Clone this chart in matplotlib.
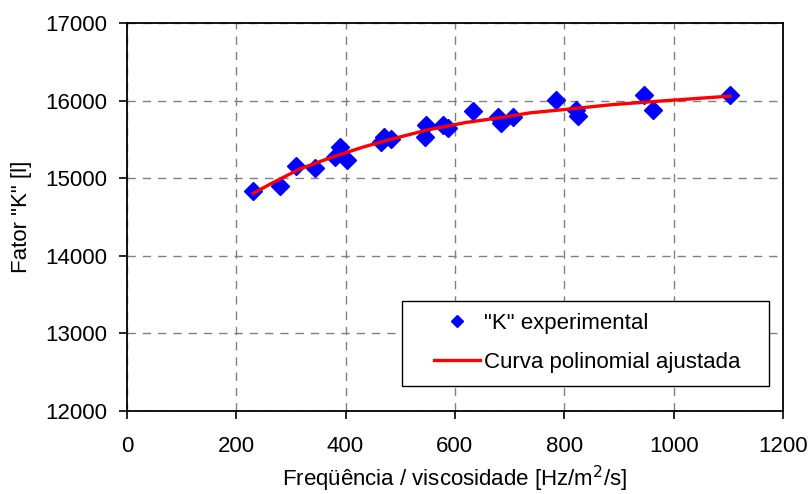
import matplotlib
matplotlib.use("Agg")
import matplotlib.pyplot as plt
from matplotlib.patches import Rectangle
from matplotlib.ticker import MultipleLocator

plt.rcParams['font.family'] = ['Liberation Sans', 'DejaVu Sans']

# Measured points
freq_visc = [231, 281, 310, 344, 380, 390, 402, 465, 470, 484,
             545, 547, 579, 588, 633, 679, 685, 707, 785, 822,
             826, 946, 963, 1104]
k_exp = [14835, 14900, 15157, 15135, 15270, 15398, 15235, 15470, 15530, 15505,
         15527, 15686, 15686, 15643, 15870, 15793, 15712, 15793, 16008, 15879,
         15810, 16072, 15879, 16072]

# Fitted polynomial curve
curve_x = [231, 262, 316, 377, 433, 481, 548, 620, 686, 737, 801, 890, 981, 1103]
curve_y = [14806, 14925, 15120, 15277, 15405, 15500, 15621, 15720, 15785, 15844,
           15888, 15952, 15999, 16060]

FS = 16

fig = plt.figure(figsize=(8.08, 4.94), dpi=100)
ax = fig.add_axes([0.157, 0.168, 0.812, 0.785])

ax.plot(freq_visc, k_exp, linestyle='none', marker='D', markersize=9.3,
        color='#0000FF', markeredgecolor='#0000FF', label='"K" experimental', zorder=3)
ax.plot(curve_x, curve_y, color='#FF0000', linewidth=2.4,
        label='Curva polinomial ajustada', zorder=4)

ax.set_xlim(0, 1200)
ax.set_ylim(12000, 17000)
ax.xaxis.set_major_locator(MultipleLocator(200))
ax.yaxis.set_major_locator(MultipleLocator(1000))

ax.grid(True, color='#808080', linestyle=(0, (6, 5)), linewidth=1.0)
ax.set_axisbelow(True)

for s in ax.spines.values():
    s.set_linewidth(1.3)
    s.set_color('black')

ax.tick_params(direction='out', length=6, width=1.2, labelsize=FS, pad=8)
ax.tick_params(axis='x', pad=12)

ax.set_xlabel('Freqüência / viscosidade [Hz/m$^2$/s]', fontsize=FS, labelpad=5)
ax.set_ylabel('Fator "K" [l]', fontsize=FS, labelpad=10)

# Legend box with wide side margins
ax.add_patch(Rectangle((0.419, 0.064), 0.560, 0.220, transform=ax.transAxes,
                       facecolor='white', edgecolor='black', linewidth=1.0,
                       zorder=5))
leg = ax.legend(loc='center left', bbox_to_anchor=(0.468, 0.176), fontsize=FS,
                frameon=False, markerscale=0.7, handlelength=2.07, borderpad=0,
                labelspacing=0.8, handletextpad=0.2, borderaxespad=0)
leg.set_zorder(6)

fig.savefig('out.png', dpi=100)
